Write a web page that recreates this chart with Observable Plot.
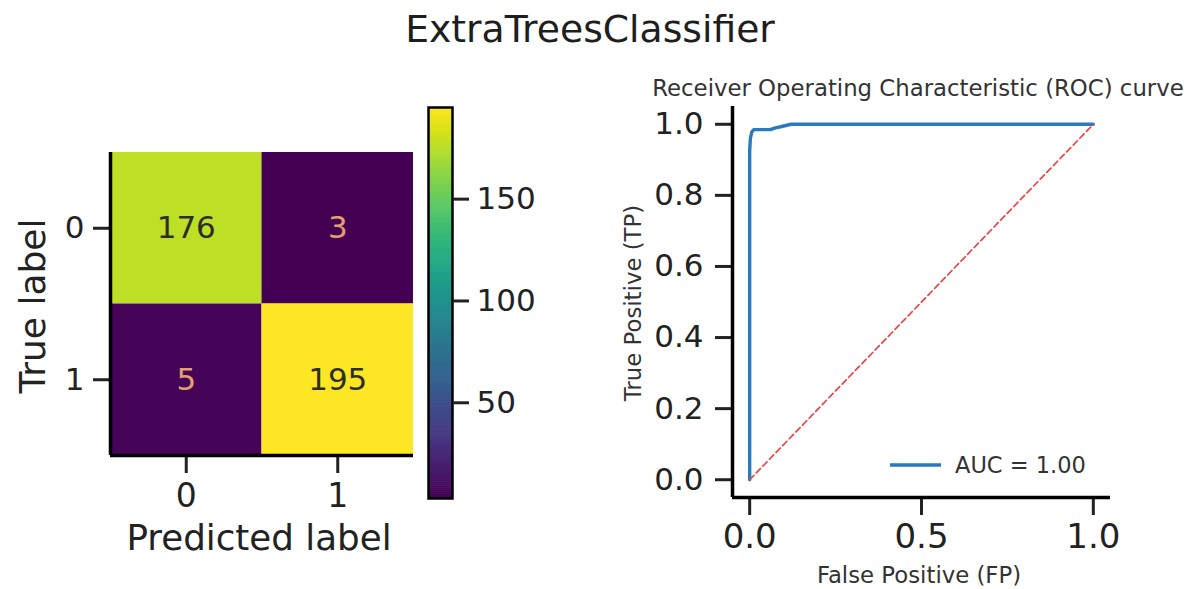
<!DOCTYPE html>
<html>
<head>
<meta charset="utf-8">
<script src="https://cdn.jsdelivr.net/npm/d3@7"></script>
<script src="https://cdn.jsdelivr.net/npm/@observablehq/plot@0.6"></script>
<style>
  html, body { margin: 0; padding: 0; background: #fff; }
  #root { position: relative; width: 1187px; height: 589px; overflow: hidden; font-family: "DejaVu Sans", sans-serif; }
  #root > svg { position: absolute; top: 0; }
</style>
</head>
<body>
<div id="root"></div>
<script>
// ---------- data ----------
const suptitle = "ExtraTreesClassifier";
const classLabels = [0, 1];
const cmTrue = [0, 0, 1, 1];
const cmPred = [0, 1, 0, 1];
const cmValues = [176, 3, 5, 195];
const cmXLabel = "Predicted label";
const cmYLabel = "True label";
const colorbarTicks = [50, 100, 150];

const rocTitle = "Receiver Operating Characteristic (ROC) curve";
const rocXLabel = "False Positive (FP)";
const rocYLabel = "True Positive (TP)";
const rocFpr = [0, 0, 0.002, 0.006, 0.012, 0.06, 0.075, 0.09, 0.12, 1.0];
const rocTpr = [0, 0.925, 0.96, 0.978, 0.985, 0.985, 0.99, 0.993, 1.0, 1.0];
const diagFpr = [0, 1];
const diagTpr = [0, 1];
const rocXTicks = [0, 0.5, 1.0];
const rocYTicks = [0, 0.2, 0.4, 0.6, 0.8, 1.0];
const aucLabel = "AUC = 1.00";

// ---------- setup ----------
const FONT = "DejaVu Sans";
const TXT = "#222";
const root = document.getElementById("root");
const [vmin, vmax] = d3.extent(cmValues);
const colorOpts = {type: "linear", scheme: "viridis", domain: [vmin, vmax]};
const baseStyle = {fontFamily: FONT, background: "transparent", color: TXT, overflow: "visible", maxWidth: "none"};

function place(svg, left) {
  svg.style.position = "absolute";
  svg.style.left = left + "px";
  svg.style.top = "0px";
  root.appendChild(svg);
}

// ---------- confusion matrix ----------
const cm = cmValues.map((v, i) => ({t: cmTrue[i], p: cmPred[i], v}));
const mid = (vmin + vmax) / 2;
const cmPlot = Plot.plot({
  width: 425, height: 589,
  marginLeft: 110, marginRight: 12, marginTop: 152, marginBottom: 134,
  style: baseStyle,
  x: {domain: [-0.5, 1.5]},
  y: {domain: [-0.5, 1.5], reverse: true},
  color: colorOpts,
  marks: [
    Plot.rect(cm, {x1: d => d.p - 0.5, x2: d => d.p + 0.5, y1: d => d.t - 0.5, y2: d => d.t + 0.5, fill: "v"}),
    Plot.text(cm.filter(d => d.v >= mid), {x: "p", y: "t", text: d => String(d.v), fill: "#2e2e28", fontSize: 31}),
    Plot.text(cm.filter(d => d.v < mid), {x: "p", y: "t", text: d => String(d.v), fill: "#e2a070", fontSize: 31}),
    Plot.axisX({anchor: "bottom", ticks: classLabels, tickFormat: d3.format("d"), tickSize: 18, strokeWidth: 3, tickPadding: 10, fontSize: 33, label: null}),
    Plot.axisY({anchor: "left", ticks: classLabels, tickFormat: d3.format("d"), tickSize: 17, strokeWidth: 3, tickPadding: 9, fontSize: 31, label: null}),
    Plot.ruleX([-0.5], {stroke: "black", strokeWidth: 3.5}),
    Plot.ruleY([1.5], {stroke: "black", strokeWidth: 3.5})
  ]
});
place(cmPlot, 0);

// ---------- colorbar ----------
const ramp = d3.range(vmin, vmax, 1);
const cbPlot = Plot.plot({
  width: 140, height: 589,
  marginLeft: 28, marginRight: 88, marginTop: 107, marginBottom: 91,
  style: baseStyle,
  x: {domain: [0, 1], axis: null},
  y: {domain: [vmin, vmax]},
  color: colorOpts,
  marks: [
    Plot.rect(ramp, {x1: 0, x2: 1, y1: d => d, y2: d => Math.min(vmax, d + 1.3), fill: d => d}),
    Plot.frame({stroke: "black", strokeWidth: 2.5}),
    Plot.axisY({anchor: "right", ticks: colorbarTicks, tickFormat: d3.format("d"), tickSize: 16, strokeWidth: 3, tickPadding: 8, fontSize: 31, label: null})
  ]
});
place(cbPlot, 400);

// ---------- ROC ----------
const roc = rocFpr.map((f, i) => ({fpr: f, tpr: rocTpr[i]}));
const diag = diagFpr.map((f, i) => ({fpr: f, tpr: diagTpr[i]}));
const rocPlot = Plot.plot({
  width: 587, height: 589,
  marginLeft: 132, marginRight: 77, marginTop: 106, marginBottom: 92,
  style: baseStyle,
  x: {domain: [-0.05, 1.05]},
  y: {domain: [-0.05, 1.05]},
  marks: [
    Plot.line(roc, {x: "fpr", y: "tpr", stroke: "#2a7bbd", strokeWidth: 3.4}),
    Plot.line(diag, {x: "fpr", y: "tpr", stroke: "#e8474a", strokeWidth: 1.7, strokeDasharray: "6,3.5"}),
    Plot.axisX({anchor: "bottom", ticks: rocXTicks, tickFormat: d3.format(".1f"), tickSize: 18, strokeWidth: 3, tickPadding: 8, fontSize: 34, label: null}),
    Plot.axisY({anchor: "left", ticks: rocYTicks, tickFormat: d3.format(".1f"), tickSize: 17, strokeWidth: 3, tickPadding: 12, fontSize: 31, label: null}),
    Plot.ruleX([-0.05], {stroke: "black", strokeWidth: 3.5}),
    Plot.ruleY([-0.05], {stroke: "black", strokeWidth: 3.5})
  ]
});
place(rocPlot, 600);

// ---------- titles, axis labels, legend ----------
const ov = d3.select(root).append("svg")
  .attr("width", 1187).attr("height", 589)
  .style("position", "absolute").style("left", "0px").style("top", "0px")
  .style("pointer-events", "none")
  .attr("font-family", FONT);

function label(txt, x, y, size, opts = {}) {
  const t = ov.append("text").text(txt)
    .attr("x", x).attr("y", y)
    .attr("font-size", size)
    .attr("fill", opts.fill || TXT)
    .attr("text-anchor", opts.anchor || "middle");
  if (opts.rotate) t.attr("transform", `rotate(-90 ${x} ${y})`).attr("dominant-baseline", "central");
  if (opts.central) t.attr("dominant-baseline", "central");
  return t;
}
label(suptitle, 590, 42, 37.7, {fill: "#1e1e1e"});
label(cmXLabel, 259, 550, 35.7);
label(cmYLabel, 32, 306, 36, {rotate: true});
label(rocTitle, 918, 96, 22.8, {fill: "#333"});
label(rocXLabel, 919, 583, 22.8, {fill: "#333"});
label(rocYLabel, 633, 303, 22.8, {rotate: true, fill: "#333"});

// legend
ov.append("line").attr("x1", 890).attr("x2", 941).attr("y1", 465).attr("y2", 465)
  .attr("stroke", "#2a7bbd").attr("stroke-width", 3.4);
label(aucLabel, 955, 465, 22.5, {anchor: "start", central: true, fill: "#333"});
</script>
</body>
</html>
